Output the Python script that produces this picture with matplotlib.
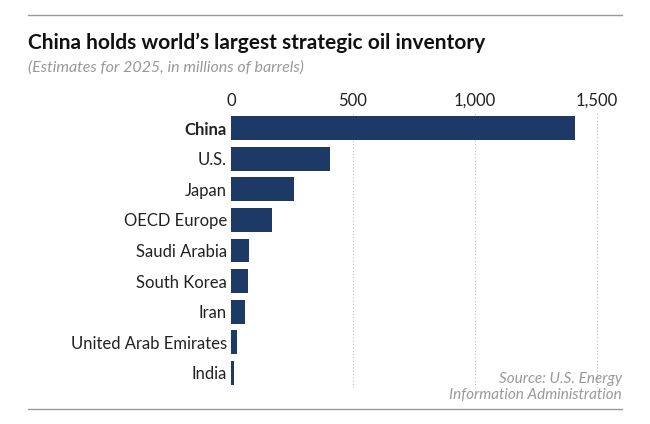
import matplotlib.pyplot as plt
from matplotlib.lines import Line2D

countries = ["China", "U.S.", "Japan", "OECD Europe", "Saudi Arabia",
             "South Korea", "Iran", "United Arab Emirates", "India"]
barrels = [1410, 405, 260, 170, 72, 68, 58, 26, 14]
ticks = [0, 500, 1000, 1500]
tick_labels = ["0", "500", "1,000", "1,500"]

plt.rcParams['font.family'] = ['Lato', 'DejaVu Sans']
fig = plt.figure(figsize=(6.5, 4.24), dpi=100)
ax = fig.add_axes([231/650, 1 - 388/424, (597-231)/650 + 0.04, (388-113)/424])
ax.set_xlim(0, 1500 * (1 + 0.04 * 650 / 366))

y = list(range(len(countries)))
ax.barh(y, barrels, height=0.78, color="#1d3a66", zorder=2)
ax.set_ylim(len(countries) - 0.5, -0.5)
ax.set_yticks(y)
ax.set_yticklabels(countries, fontsize=12, color="#222222")
ax.get_yticklabels()[0].set_fontweight("bold")
ax.xaxis.tick_top()
ax.set_xticks(ticks)
ax.set_xticklabels(tick_labels, fontsize=12, color="#222222")
ax.tick_params(length=0, pad=3)
for t in ticks[1:]:
    ax.axvline(t, color="#bbbbbb", linestyle=(0, (1, 2)), linewidth=0.8, zorder=1)
for s in ax.spines.values():
    s.set_visible(False)

fig.text(28/650, 1 - 43/424, "China holds world\u2019s largest strategic oil inventory",
         fontsize=15, fontweight="bold", color="#111111", va="center")
fig.text(28/650, 1 - 68/424, "(Estimates for 2025, in millions of barrels)",
         fontsize=11.5, style="italic", color="#999999", va="center")
fig.text(622/650, 1 - 387/424, "Source: U.S. Energy\nInformation Administration",
         fontsize=11, style="italic", color="#999999", ha="right", va="center",
         linespacing=1.1)
fig.add_artist(Line2D([28/650, 622/650], [1 - 15/424] * 2, color="#999999", lw=1))
fig.add_artist(Line2D([28/650, 622/650], [1 - 409/424] * 2, color="#999999", lw=1))

fig.savefig("out.png", dpi=100)
